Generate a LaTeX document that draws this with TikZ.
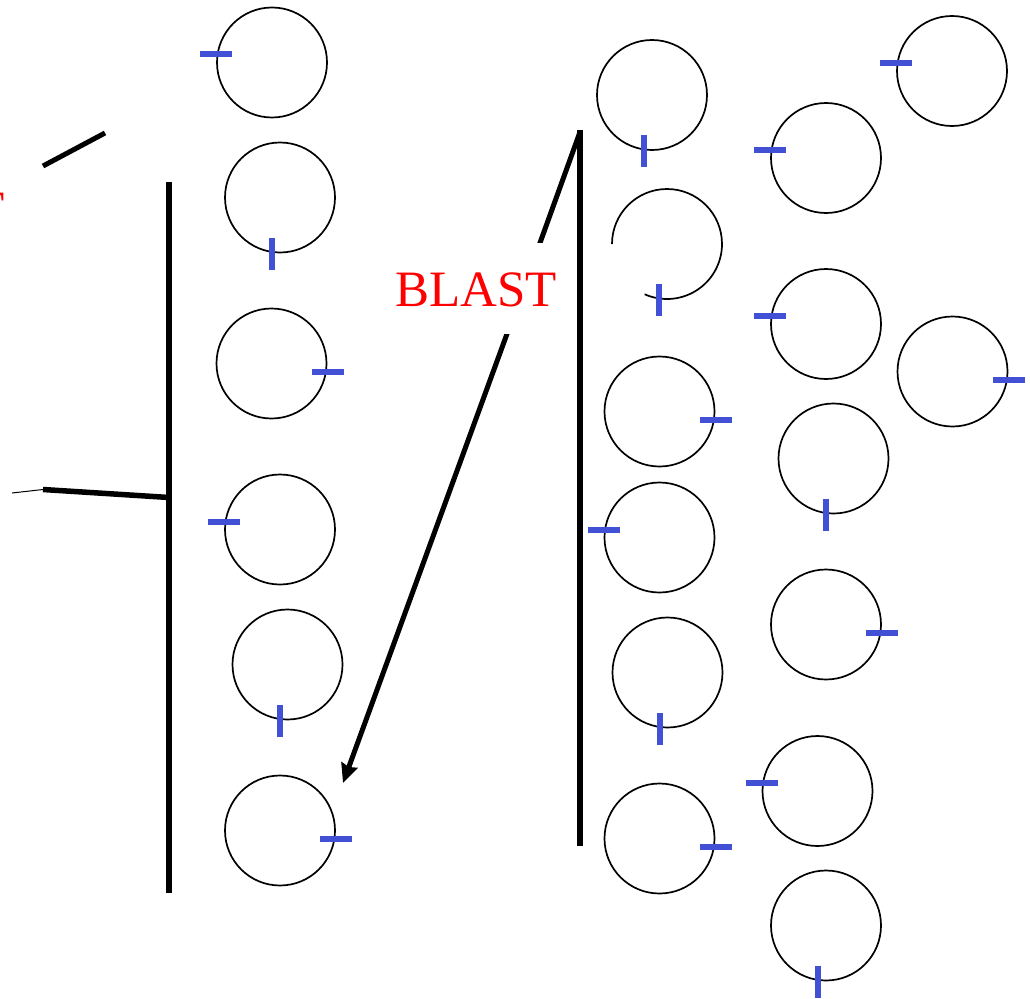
\documentclass[tikz,border=0pt]{standalone}
\usepackage{fontspec}
\setmainfont{Liberation Serif}
\usetikzlibrary{calc,arrows.meta}
\definecolor{tickblue}{RGB}{66,80,214}
\newcommand\tkW[1]{\draw[tickline] ($(#1)+(-72,-8)$) -- ($(#1)+(-40,-8)$);}
\newcommand\tkE[1]{\draw[tickline] ($(#1)+(40,8)$) -- ($(#1)+(72,8)$);}
\newcommand\tkS[1]{\draw[tickline] ($(#1)+(-8,40)$) -- ($(#1)+(-8,72)$);}
\begin{document}
\begin{tikzpicture}[x=1pt,y=-1pt,
  ball/.style={circle,draw,line width=1.7pt,minimum size=110pt,inner sep=0pt},
  tickline/.style={tickblue,line width=6pt},
  bar/.style={line width=5.5pt},
  thinbar/.style={line width=5pt},
  blasttext/.style={text=red,fill=white,font=\fontsize{51}{61}\selectfont,
    inner xsep=4pt,inner ysep=0pt,text height=63pt,text depth=28pt}]
\useasboundingbox (0,0) rectangle (1030,998);

% left column
\node[ball] (c1) at (272,62.5) {};
\node[ball] (c2) at (280,197.5) {};
\node[ball] (c3) at (271.5,363.5) {};
\node[ball] (c4) at (280,529.5) {};
\node[ball] (c5) at (287.5,664.5) {};
\node[ball] (c6) at (280,830.5) {};
% middle column
\node[ball] (c7) at (652,95) {};
\coordinate (c8) at (667,244);
\draw[line width=1.7pt] (c8) ++(-55,0) arc[start angle=180,end angle=-114,radius=55pt];
\node[ball] (c9) at (659.5,411.5) {};
\node[ball] (c10) at (659.5,537.5) {};
\node[ball] (c11) at (667.5,672.5) {};
\node[ball] (c12) at (659.5,838.5) {};
% right-middle column
\node[ball] (c13) at (826,158) {};
\node[ball] (c14) at (826,324) {};
\node[ball] (c15) at (833.5,458.5) {};
\node[ball] (c16) at (826,624.5) {};
\node[ball] (c17) at (817.5,791) {};
\node[ball] (c18) at (826,925.5) {};
% far right
\node[ball] (c19) at (952,71) {};
\node[ball] (c20) at (952.5,371.5) {};

% ticks
\tkW{c1}\tkS{c2}\tkE{c3}\tkW{c4}\tkS{c5}\tkE{c6}
\tkS{c7}\tkS{c8}\tkE{c9}\tkW{c10}\tkS{c11}\tkE{c12}
\tkW{c13}\tkW{c14}\tkS{c15}\tkE{c16}\tkW{c17}\tkS{c18}
\tkW{c19}\tkE{c20}

% left wall
\coordinate (lwt) at (169,182);
\coordinate (lwb) at (169,893);
\draw[bar] (lwt) -- (lwb);
\coordinate (la) at (169,497.5);
\coordinate (lb) at (43,489.5);
\coordinate (lc) at (12,493);
\draw[bar] (la) -- (lb);
\draw[line width=1pt] (lb) -- (lc);
\coordinate (ld1) at (105,133);
\coordinate (ld2) at (43,166);
\draw[thinbar] (ld1) -- (ld2);

% right wall
\coordinate (rwt) at (580,130);
\coordinate (rwb) at (580,846);
\draw[bar] (rwt) -- (rwb);
\coordinate (rtop) at (580,132);
\coordinate (rv) at (523,290);
\coordinate (tip) at (343,783);
\draw[thinbar,-{Stealth[length=19pt,width=17pt,inset=2pt]}] (rtop) -- (rv) -- (tip);

% labels
\node[blasttext,anchor=base] (blast) at (476,306) {BLAST};
\node[blasttext,anchor=base east] (blastL) at (9,226) {BLAST};
\end{tikzpicture}
\end{document}
